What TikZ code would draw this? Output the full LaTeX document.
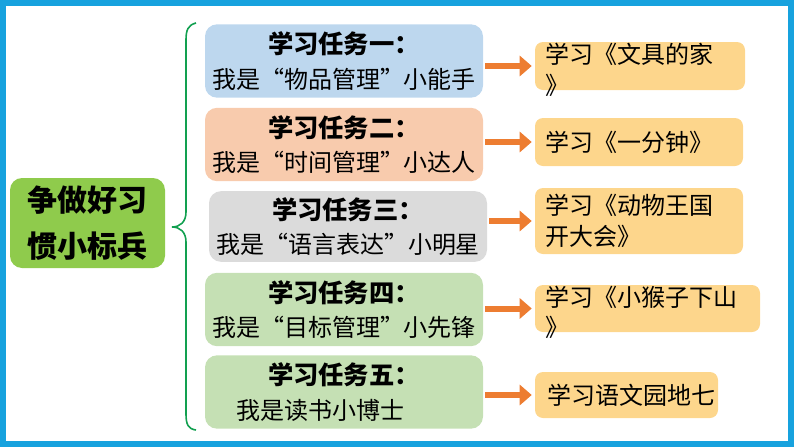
\documentclass[tikz,border=0pt]{standalone}
\usepackage{fontspec}
\setmainfont{Noto Sans CJK SC}
\usetikzlibrary{arrows.meta, positioning}
\definecolor{FrameBlue}{HTML}{17A2DE}
\definecolor{HubGreen}{HTML}{8FCB4C}
\definecolor{TaskBlue}{HTML}{BDD7EE}
\definecolor{TaskPeach}{HTML}{F8CBAD}
\definecolor{TaskGray}{HTML}{DBDBDB}
\definecolor{TaskGreen}{HTML}{C5E0B4}
\definecolor{GoalGold}{HTML}{FDD68C}
\definecolor{ArrowOrange}{HTML}{ED7D31}
\definecolor{BraceGreen}{HTML}{12A050}
\newcommand{\tasktitle}[1]{{\bfseries\fontsize{19pt}{26pt}\selectfont #1}}

\begin{document}
\begin{tikzpicture}[
        x=0.75pt, y=-0.75pt,
        hub/.style={rectangle, fill=HubGreen, rounded corners=9pt, minimum width=116.25pt, minimum height=67.5pt, align=center, font=\bfseries\fontsize{22.5pt}{34pt}\selectfont},
        task/.style={rectangle, rounded corners=9pt, minimum width=208.5pt, minimum height=55pt, align=center, font=\fontsize{18pt}{26pt}\selectfont},
        goal/.style={rectangle, fill=GoalGold, rounded corners=6pt, minimum height=36pt},
        goaltext/.style={anchor=west, align=left, inner sep=0pt, font=\fontsize{18pt}{23pt}\selectfont},
        arr/.style={-{Triangle[length=9pt, width=15pt]}, line width=4.5pt, ArrowOrange, shorten <=1.5pt, shorten >=2.25pt}
      ]
        \useasboundingbox (0,0) rectangle (794,447);
        \draw[FrameBlue, line width=4.5pt] (3,3) rectangle (791,444);

        \node[hub] (hub) at (87.5,223) {争做好习\\惯小标兵};

        \node[task, fill=TaskBlue] (t1) at (344,61) {\tasktitle{学习任务一：}\\我是“物品管理”小能手};
        \node[task, fill=TaskPeach] (t2) at (344,144.5) {\tasktitle{学习任务二：}\\我是“时间管理”小达人};
        \node[task, fill=TaskGray, minimum height=53pt] (t3) at (348,226.5) {\tasktitle{学习任务三：}\\我是“语言表达”小明星};
        \node[task, fill=TaskGreen] (t4) at (344,309.5) {\tasktitle{学习任务四：}\\我是“目标管理”小先锋};
        \node[task, fill=TaskGreen] (t5) at (344,392) {\tasktitle{学习任务五：}\\我是读书小博士\rule{2em}{0pt}};

        \node[goal, minimum width=157.5pt] (g1) at (640,66) {};
        \node[goal, minimum width=156pt] (g2) at (639,142) {};
        \node[goal, minimum width=156pt, minimum height=49.5pt] (g3) at (639,221) {};
        \node[goal, minimum width=168.75pt, minimum height=35.25pt] (g4) at (647.5,308.5) {};
        \node[goal, minimum width=137.25pt, minimum height=34.5pt] (g5) at (626.5,395) {};

        \node[goaltext] (l1) at ([xshift=7.5pt, yshift=-3pt]g1.west) {学习《文具的家\\》};
        \node[goaltext] (l2) at ([xshift=7.5pt]g2.west) {学习《一分钟》};
        \node[goaltext] (l3) at ([xshift=7.5pt]g3.west) {学习《动物王国\\开大会》};
        \node[goaltext] (l4) at ([xshift=7.5pt, yshift=-3pt]g4.west) {学习《小猴子下山\\》};
        \node[goaltext] (l5) at ([xshift=9pt]g5.west) {学习语文园地七};

        \draw[arr] (t1.east |- g1.west) -- (g1.west);
        \draw[arr] (t2.east |- g2.west) -- (g2.west);
        \draw[arr] (t3.east |- g3.west) -- (g3.west);
        \draw[arr] (t4.east |- g4.west) -- (g4.west);
        \draw[arr] (t5.east |- g5.west) -- (g5.west);

        % brace from the hub to the five tasks
        \coordinate (bt) at (196,23);
        \coordinate (bm) at (172,227);
        \coordinate (bb) at (196,430);
        \draw[BraceGreen, line width=1.2pt] (bt) .. controls (188,25) and (186,30) .. (186,40)
          -- (186,212) .. controls (186,222) and (180,227) .. (bm)
          .. controls (180,227) and (186,232) .. (186,242)
          -- (186,414) .. controls (186,424) and (188,429) .. (bb);
      \end{tikzpicture}
\end{document}
